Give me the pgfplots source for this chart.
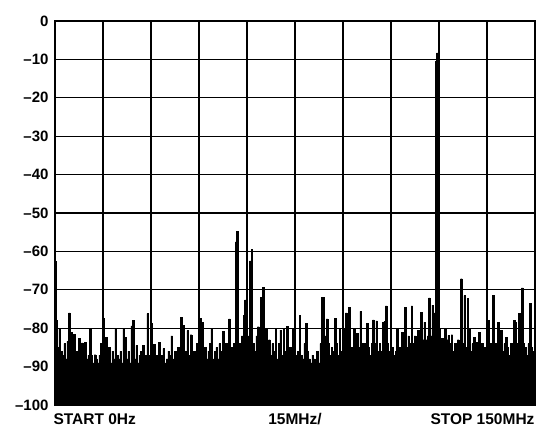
\documentclass[border=0pt]{standalone}
\usepackage{fontspec}
\setmainfont{Liberation Sans}
\usepackage{pgfplots}
\usepackage{pgfplotstable}
\pgfplotsset{compat=1.18}
\pgfplotstableread{
x y
0 -62.5
0.5 -78
1 -85
1.5 -80
2 -86
2.5 -87
3 -84
3.5 -88
4 -83.4
4.5 -76
5 -81
5.5 -88
6 -81.6
6.5 -87
7 -86
7.5 -82.7
8 -88
8.5 -83.8
9 -88
9.5 -83.6
10 -88
10.5 -87
11 -80.3
11.5 -87
12 -89
12.5 -86.9
13 -88
13.5 -89
14 -87
14.5 -84
15 -77.4
15.5 -86
16 -82.3
16.5 -88
17 -84.9
17.5 -89
18 -86
18.5 -88
19 -80
19.5 -87
20 -88
20.5 -86
21 -89
21.5 -80
22 -82.3
22.5 -88
23 -86
23.5 -89
24 -79.4
24.5 -77.9
25 -88
25.5 -84.5
26 -89
26.5 -87
27 -86
27.5 -84.5
28 -88
28.5 -87
29 -76.2
29.5 -87
30 -78.8
30.5 -88
31 -84.2
31.5 -89
32 -87
32.5 -83.6
33 -88
33.5 -87
34 -85.3
34.5 -89
35 -88
35.5 -86
36 -87
36.5 -82
37 -88
37.5 -86
38 -89
38.5 -85
39 -87
39.5 -77.1
40 -79.3
40.5 -88
41 -86
41.5 -80.6
42 -87
42.5 -81.7
43 -88
43.5 -86
44 -89
44.5 -84
45 -87
45.5 -77.4
46 -78.4
46.5 -87
47 -85
47.5 -88
48 -86
48.5 -84
49 -80
49.5 -88
50 -86
50.5 -85
51 -88
51.5 -84
52 -86
52.5 -80.8
53 -87
53.5 -84
54 -88
54.5 -77.6
55 -85
55.5 -87
56 -84
56.5 -57.5
57 -54.7
57.5 -84
58 -86
58.5 -82
59 -76.6
59.5 -72.6
60 -86
60.5 -82
61 -62.5
61.5 -59.4
62 -84
62.5 -86
63 -82
63.5 -79.6
64 -86
64.5 -71.9
65 -69.3
65.5 -84
66 -80.1
66.5 -86
67 -83
67.5 -87
68 -84
68.5 -86
69 -80
69.5 -88
70 -84
70.5 -80.5
71 -87
71.5 -80.3
72 -86
72.5 -79.5
73 -87
73.5 -85
74 -88
74.5 -80
75 -87
75.5 -89
76 -86
76.5 -76.6
77 -87
77.5 -88
78 -84
78.5 -78.8
79 -86
79.5 -88
80 -89
80.5 -87
81 -88
81.5 -90
82 -86
82.5 -89
83 -84
83.5 -71.9
84 -72
84.5 -82
85 -77.6
85.5 -84
86 -87
86.5 -85
87 -86
87.5 -77.5
88 -84
88.5 -87
89 -80
89.5 -86
90 -84
90.5 -80
91 -76
91.5 -84
92 -74.5
92.5 -85
93 -86
93.5 -80
94 -84
94.5 -81.4
95 -85
95.5 -75.6
96 -84
96.5 -86
97 -84
97.5 -78.8
98 -85
98.5 -87
99 -84
99.5 -77.8
100 -84
100.5 -78.1
101 -86
101.5 -84
102 -86
102.5 -78.4
103 -78.2
103.5 -74.2
104 -84
104.5 -86
105 -88
105.5 -85
106 -87
106.5 -86
107 -80
107.5 -85
108 -87
108.5 -81
109 -84
109.5 -74.5
110 -85
110.5 -82
111 -84
111.5 -74.2
112 -84
112.5 -82
113 -86
113.5 -80.6
114 -84
114.5 -75.9
115 -83
115.5 -78.4
116 -83
116.5 -82
117 -72.1
117.5 -82
118 -74
118.5 -76
119 -10.5
119.5 -8.3
120 -80
120.5 -83
121 -82.7
121.5 -84
122 -80.1
122.5 -83
123 -81.9
123.5 -84
124 -81.7
124.5 -86
125 -84
125.5 -86
126 -83
126.5 -84
127 -67.1
127.5 -84
128 -71.5
128.5 -85
129 -72.3
129.5 -80
130 -86
130.5 -84
131 -82.4
131.5 -86
132 -83.6
132.5 -81
133 -86
133.5 -84
134 -87
134.5 -85
135 -82
135.5 -77.9
136 -84
136.5 -86
137 -71.5
137.5 -84
138 -86
138.5 -78.4
139 -85
139.5 -80.6
140 -86
140.5 -84
141 -82.4
141.5 -85
142 -87
142.5 -84
143 -86
143.5 -77.9
144 -78.4
144.5 -84
145 -76.2
145.5 -82
146 -69.5
146.5 -84
147 -85
147.5 -87
148 -84
148.5 -73.6
149 -85
149.5 -86
150 -88
}\spectrum
\begin{document}
\begin{tikzpicture}
\useasboundingbox (-55pt,-21pt) rectangle (492pt,405pt);
\begin{axis}[
  scale only axis,
  width=480pt, height=384pt,
  xmin=0, xmax=150, ymin=-100, ymax=0,
  xtick={0,15,...,150},
  xticklabels={},
  ytick={-100,-90,...,0},
  yticklabels={{--100},{--90},{--80},{--70},{--60},{--50},{--40},{--30},{--20},{--10},{0}},
  yticklabel style={font=\fontsize{15}{15}\selectfont\bfseries, xshift=-3pt},
  major tick length=0pt,
  grid=major,
  major grid style={black, line width=1.2pt},
  axis line style={black, line width=1.8pt},
  axis on top=false,
  clip=true,
]
\addplot[const plot mark mid, fill=black, draw=black, line width=0.3pt]
  table[x=x, y=y] {\spectrum} |- (axis cs:0,-100) -- cycle;
\end{axis}
\node[anchor=base west, font=\fontsize{15.5}{15.5}\selectfont\bfseries] at (-5pt,-19.2pt) {START 0Hz};
\node[anchor=base, font=\fontsize{15.5}{15.5}\selectfont\bfseries] at (240pt,-19.2pt) {15MHz/};
\node[anchor=base east, font=\fontsize{15.5}{15.5}\selectfont\bfseries] at (483pt,-19.2pt) {STOP 150MHz};
\end{tikzpicture}
\end{document}
